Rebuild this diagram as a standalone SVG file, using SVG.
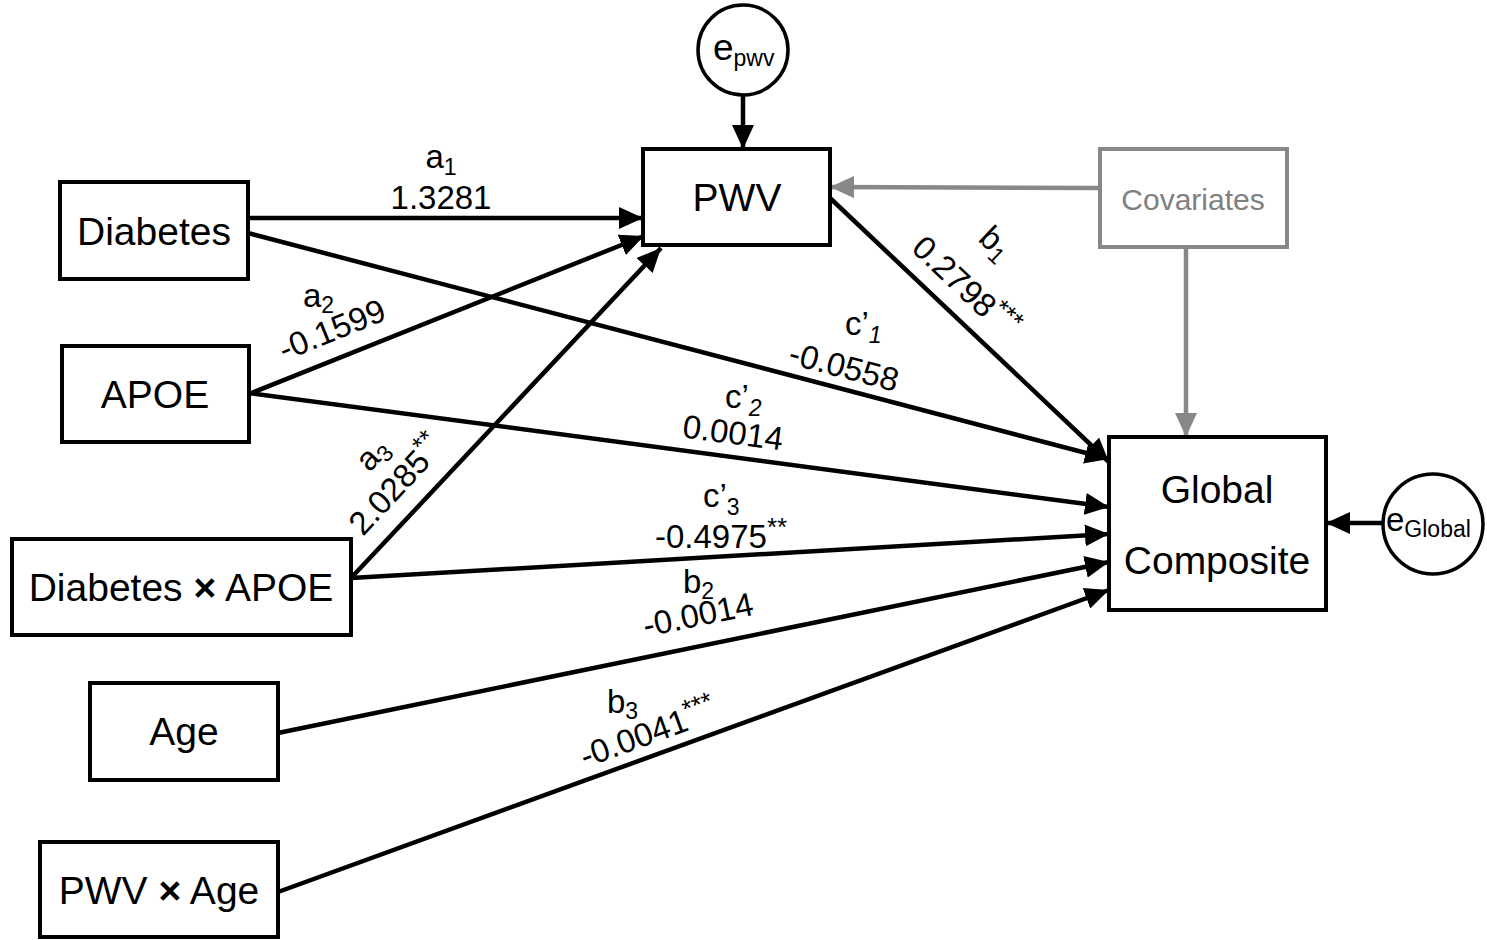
<svg xmlns="http://www.w3.org/2000/svg" width="1487" height="940" viewBox="0 0 1487 940">
<defs>
<marker id="ah" markerUnits="userSpaceOnUse" markerWidth="26" markerHeight="22" refX="24" refY="11" orient="auto"><path d="M0,0 L24,11 L0,22 z" fill="#000"/></marker>
<marker id="ahg" markerUnits="userSpaceOnUse" markerWidth="26" markerHeight="22" refX="24" refY="11" orient="auto"><path d="M0,0 L24,11 L0,22 z" fill="#888"/></marker>
<style>
.box{fill:#fff;stroke:#000;stroke-width:4}
.gbox{fill:#fff;stroke:#888;stroke-width:4}
.circ{fill:#fff;stroke:#000;stroke-width:3.5}
.nt{font-family:"Liberation Sans",Arial,sans-serif;font-size:39px;fill:#000;text-anchor:middle}
.gt{font-family:"Liberation Sans",Arial,sans-serif;font-size:30px;fill:#808080;text-anchor:middle}
.lb{font-family:"Liberation Sans",Arial,sans-serif;font-size:33px;fill:#000}
.ln{fill:none;stroke:#000;stroke-width:4.5;marker-end:url(#ah)}
.lg{fill:none;stroke:#888;stroke-width:4.5;marker-end:url(#ahg)}
</style>
</defs>
<g id="connectors">
<path class="ln" d="M743,95 L743,149"/>
<path class="ln" d="M248,218 L643,218"/>
<path class="ln" d="M249,394 L644,236"/>
<path class="ln" d="M351,578 L661,248"/>
<path class="lg" d="M1100,188 L830,187"/>
<path class="lg" d="M1186,247 L1186,437"/>
<path class="ln" d="M830,198 L1109,462"/>
<path class="ln" d="M248,233 L1109,459"/>
<path class="ln" d="M249,393 L1109,507"/>
<path class="ln" d="M351,578 L1109,534"/>
<path class="ln" d="M278,733 L1109,562"/>
<path class="ln" d="M278,892 L1109,590"/>
<path class="ln" d="M1383,523 L1326,523"/>
</g>
<g id="labels">
<text class="lb" x="441" y="168" text-anchor="middle">a<tspan dy="7" font-size="23">1</tspan></text>
<text class="lb" x="441" y="209" text-anchor="middle">1.3281</text>
<text class="lb" x="303" y="307">a<tspan dy="6" font-size="23">2</tspan></text>
<text class="lb" transform="translate(332,330) rotate(-22)" x="0" y="11" text-anchor="middle">-0.1599</text>
<text class="lb" x="845" y="335">c’<tspan dy="8" font-size="23" font-style="italic">1</tspan></text>
<text class="lb" transform="translate(844,367) rotate(14.8)" x="0" y="11" text-anchor="middle">-0.0558</text>
<text class="lb" x="725" y="408">c’<tspan dy="8" font-size="23" font-style="italic">2</tspan></text>
<text class="lb" transform="translate(733,433) rotate(7.5)" x="0" y="11" text-anchor="middle">0.0014</text>
<text class="lb" transform="translate(372,454) rotate(-47)" x="0" y="11" text-anchor="middle">a<tspan dy="6" font-size="23">3</tspan></text>
<text class="lb" transform="translate(363,537) rotate(-47)" x="0" y="0">2.0285<tspan dy="-12" font-size="26">**</tspan></text>
<text class="lb" x="703" y="507">c’<tspan dy="8" font-size="23">3</tspan></text>
<text class="lb" x="655" y="548">-0.4975<tspan dy="-12" font-size="26">**</tspan></text>
<text class="lb" x="683" y="593">b<tspan dy="6" font-size="23">2</tspan></text>
<text class="lb" transform="translate(698,615) rotate(-11.6)" x="0" y="11" text-anchor="middle">-0.0014</text>
<text class="lb" x="607" y="713">b<tspan dy="6" font-size="23">3</tspan></text>
<text class="lb" transform="translate(585,768) rotate(-20)" x="0" y="0">-0.0041<tspan dy="-12" font-size="26">***</tspan></text>
<text class="lb" transform="translate(977,240) rotate(43.4)" x="0" y="0">b<tspan dy="6" font-size="23">1</tspan></text>
<text class="lb" transform="translate(910,250) rotate(43.4)" x="0" y="0">0.2798<tspan dy="-12" font-size="26">***</tspan></text>
</g>
<g id="node-diabetes"><rect class="box" x="60" y="182" width="188" height="97"/><text class="nt" x="154" y="245">Diabetes</text></g>
<g id="node-apoe"><rect class="box" x="62" y="346" width="187" height="96"/><text class="nt" x="155" y="408">APOE</text></g>
<g id="node-diabetes-apoe"><rect class="box" x="12" y="539" width="339" height="96"/><text class="nt" x="181" y="601">Diabetes <tspan font-weight="bold">×</tspan> APOE</text></g>
<g id="node-age"><rect class="box" x="90" y="683" width="188" height="97"/><text class="nt" x="184" y="745">Age</text></g>
<g id="node-pwv-age"><rect class="box" x="40" y="842" width="238" height="95"/><text class="nt" x="159" y="904">PWV <tspan font-weight="bold">×</tspan> Age</text></g>
<g id="node-pwv"><rect class="box" x="643" y="149" width="187" height="96"/><text class="nt" x="737" y="211">PWV</text></g>
<g id="node-covariates"><rect class="gbox" x="1100" y="149" width="187" height="98"/><text class="gt" x="1193" y="210">Covariates</text></g>
<g id="node-global"><rect class="box" x="1109" y="437" width="217" height="173"/><text class="nt" x="1217" y="503">Global</text><text class="nt" x="1217" y="574">Composite</text></g>
<g id="node-epwv"><circle class="circ" cx="743" cy="50" r="45"/><text x="713" y="60" font-family="Liberation Sans, Arial, sans-serif" font-size="37">e<tspan dy="6" font-size="23">pwv</tspan></text></g>
<g id="node-eglobal"><circle class="circ" cx="1433" cy="524" r="50"/><text x="1386" y="531" font-family="Liberation Sans, Arial, sans-serif" font-size="33">e<tspan dy="6" font-size="23">Global</tspan></text></g>
</svg>
